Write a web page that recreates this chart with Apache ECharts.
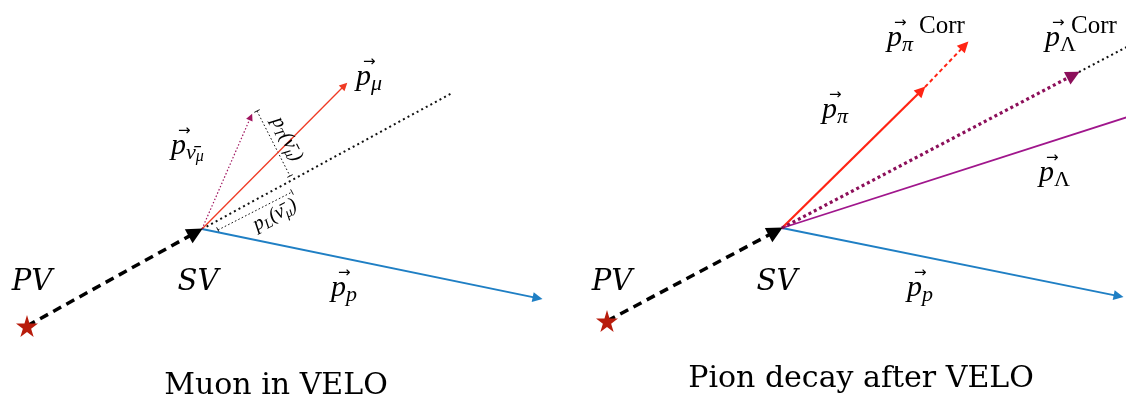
<!DOCTYPE html>
<html><head><meta charset="utf-8">
<script src="https://cdn.jsdelivr.net/npm/echarts@6/dist/echarts.min.js"></script>
<style>html,body{margin:0;padding:0;background:#fff}#c{width:1126px;height:394px}</style>
</head><body><div id="c"></div>
<script>
// ---- diagram data (pixel-like data space: x 0..1126, y 0..394 downward) ----
const primaryVertices = [[27,326],[607,321]];
const secondaryVertices = [[202,229],[782,228]];
const muonTrack = [[202,229],[347,83]];
const pionTrack = [[782,228],[925,87]];
const pionCorrTrack = [[925,87],[968,42]];
const protonTracks = [[[202,229],[542,299]],[[782,228],[1123,297]]];
const neutrinoTrack = [[202,229],[252,114]];
const lambdaCorrTrack = [[782,228],[1079,72]];
const lambdaTrack = [[782,228],[1140,113]];
const flightExtensions = [[[202,229],[452,93]],[[1079,72],[1140,40]]];
const dimensionLines = [[[257,111],[290,176]],[[218,230],[292,192]]];

const vertexLabels = [[32,282,'PV'],[198,282,'SV'],[612,282,'PV'],[777,282,'SV']];
const mathLabels = [
  [171,144,'{p|p}{s|\u03BD\u0304}{ss|\u03BC}'],
  [356,75,'{p|p}{s|\u03BC}'],
  [331,286,'{p|p}{s|p}'],
  [822,108,'{p|p}{s|\u03C0}'],
  [1039,171,'{p|p}{sr|\u039B}'],
  [907,286,'{p|p}{s|p}'],
  [887,36,'{p|p}{s|\u03C0}'],
  [1045,36,'{p|p}{sr|\u039B}']
];
const corrLabels = [[942,26,'Corr'],[1094,26,'Corr']];
const dimLabels = [[287,139,-63,'{a|p}{b|T}{a|(\u03BD\u0304}{b|\u03BC}{a|)}'],[275,215,28.5,'{a|p}{b|L}{a|(\u03BD\u0304}{b|\u03BC}{a|)}']];
const captions = [[276,386,'Muon in VELO'],[861,379,'Pion decay after VELO']];

// ---- helpers ----
function shorten(seg, d){
  const [a,b]=seg; const dx=b[0]-a[0], dy=b[1]-a[1]; const L=Math.hypot(dx,dy);
  return [a,[b[0]-dx/L*d, b[1]-dy/L*d]];
}
function ticks(seg, len){
  const [a,b]=seg; const dx=b[0]-a[0], dy=b[1]-a[1]; const L=Math.hypot(dx,dy);
  const nx=-dy/L*len/2, ny=dx/L*len/2;
  return [a,b].map(p=>({coords:[[p[0]-nx,p[1]-ny],[p[0]+nx,p[1]+ny]]}));
}
function linesSeries(segs, color, width, type, symbol, size){
  return {type:'lines', coordinateSystem:'cartesian2d', silent:true, z:2,
    symbol:['none', symbol||'none'], symbolSize:size||0,
    lineStyle:{color:color, width:width, type:type, opacity:1, curveness:0, cap:'butt'},
    itemStyle:{color:color},
    data: segs.map(s=>({coords: symbol && symbol!=='none' ? shorten(s,size*0.45) : s}))};
}

const fontMath = 'Liberation Serif';
const ink = '#000';
const rich = {
  ar:{fontFamily:'DejaVu Sans', fontSize:15, lineHeight:4, padding:[0,0,0,7], color:ink},
  p:{fontFamily:fontMath, fontStyle:'italic', fontSize:30, lineHeight:26, color:ink},
  s:{fontFamily:fontMath, fontStyle:'italic', fontSize:22, lineHeight:8, padding:[15,0,0,0], color:ink},
  sr:{fontFamily:fontMath, fontSize:22, lineHeight:8, padding:[15,0,0,0], color:ink},
  ss:{fontFamily:fontMath, fontStyle:'italic', fontSize:16, lineHeight:2, padding:[22,0,0,0], color:ink},
  a:{fontFamily:fontMath, fontStyle:'italic', fontSize:20, lineHeight:24, color:ink},
  b:{fontFamily:fontMath, fontStyle:'italic', fontSize:14, lineHeight:10, padding:[10,0,0,0], color:ink}
};

function textSeries(items, labelFn){
  return {type:'scatter', symbolSize:0, silent:true, z:5,
    itemStyle:{color:'rgba(0,0,0,0)', opacity:1},
    data: items.map(it=>({value:[it[0],it[1]], label:Object.assign({show:true, position:'inside', opacity:1, color:ink}, labelFn(it))}))};
}

const option = {
  animation:false,
  backgroundColor:'#ffffff',
  grid:{left:0,right:0,top:0,bottom:0},
  xAxis:{type:'value', min:0, max:1126, show:false},
  yAxis:{type:'value', min:0, max:394, inverse:true, show:false},
  series:[
    linesSeries(flightExtensions, '#111', 2, [2,3.2]),
    linesSeries(dimensionLines, '#111', 1, [1.6,2.2]),
    {type:'lines', coordinateSystem:'cartesian2d', silent:true, lineStyle:{color:'#111',width:1,opacity:1},
      data: dimensionLines.flatMap(s=>ticks(s,6))},
    linesSeries(protonTracks, '#1f7fc4', 1.8, 'solid', 'triangle', 10),
    linesSeries([lambdaTrack], '#a0168c', 1.8, 'solid'),
    linesSeries([muonTrack], '#f03a24', 1.3, 'solid', 'triangle', 8),
    linesSeries([pionTrack], '#ff2414', 2.2, 'solid', 'triangle', 11),
    linesSeries([pionCorrTrack], '#ff2414', 2, [4,3], 'triangle', 11),
    linesSeries([neutrinoTrack], '#a0155f', 1.2, [1.5,2], 'triangle', 7),
    linesSeries([lambdaCorrTrack], '#8c0f5a', 3.2, [3,3], 'triangle', 14),
    linesSeries(primaryVertices.map((p,i)=>[p, secondaryVertices[i]]), '#000', 3.5, [9,6], 'triangle', 16),
    {type:'scatter', silent:true, z:6, symbol:'path://M50,0 L61,35 L98,35 L68,57 L79,91 L50,70 L21,91 L32,57 L2,35 L39,35 Z',
      symbolSize:22, itemStyle:{color:'#b81c0c', opacity:1}, data: primaryVertices},
    textSeries(vertexLabels, it=>({align:'center', verticalAlign:'middle',
      formatter:it[2], fontFamily:'DejaVu Serif', fontStyle:'italic', fontSize:29})),
    textSeries(mathLabels, it=>({align:'left', verticalAlign:'middle',
      formatter:'{ar|\u2192}\n'+it[2], rich:rich})),
    textSeries(corrLabels, it=>({align:'center', verticalAlign:'middle',
      formatter:it[2], fontFamily:fontMath, fontSize:25})),
    textSeries(dimLabels, it=>({align:'center', verticalAlign:'middle',
      rotate:it[2], formatter:it[3], rich:rich})),
    textSeries(captions, it=>({align:'center', verticalAlign:'middle',
      formatter:it[2], fontFamily:'DejaVu Serif', fontSize:30}))
  ]
};
const chart = echarts.init(document.getElementById('c'), null, {renderer:'canvas'});
chart.setOption(option);
</script></body></html>
